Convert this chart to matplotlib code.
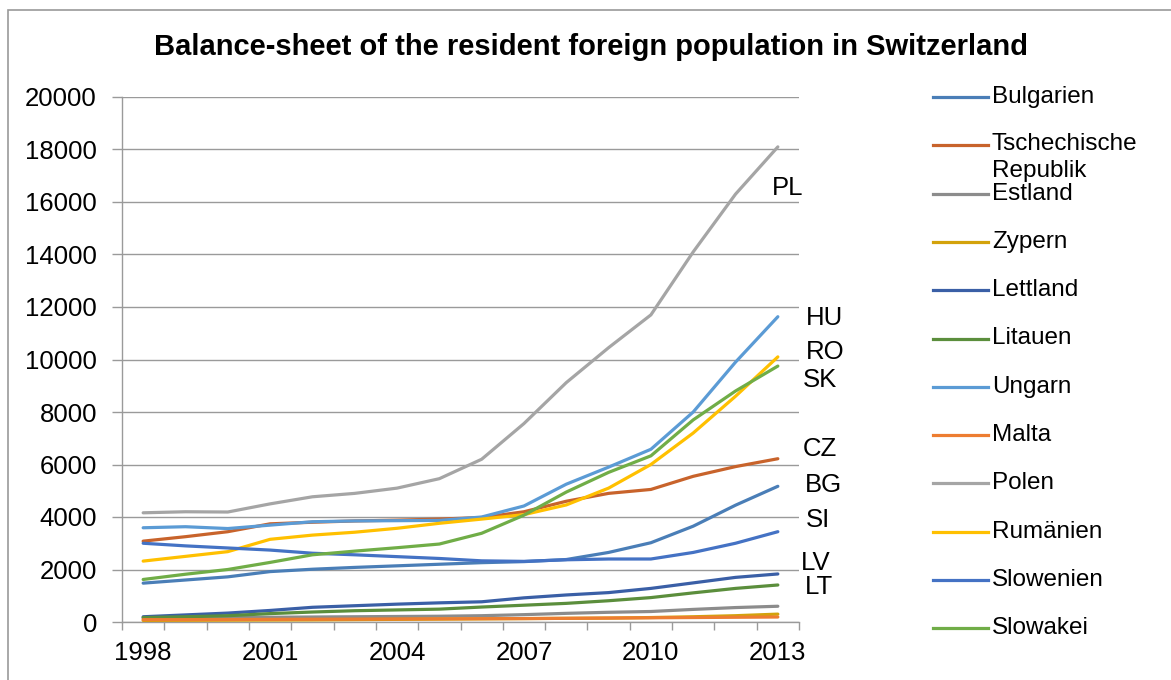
import numpy as np
import matplotlib
matplotlib.use('Agg')
import matplotlib.pyplot as plt
from matplotlib.lines import Line2D
from matplotlib.patches import Rectangle

plt.rcParams['font.family'] = ['Liberation Sans', 'DejaVu Sans']

years = list(range(1998, 2014))

countries = ['Bulgarien', 'Tschechische\nRepublik', 'Estland', 'Zypern', 'Lettland',
             'Litauen', 'Ungarn', 'Malta', 'Polen', 'Rumänien', 'Slowenien', 'Slowakei']
colors = ['#4A7EB7', '#C8632B', '#8C8C8C', '#D3A20B', '#3A5FA6', '#5B8E3C',
          '#5B9BD5', '#ED7D31', '#A5A5A5', '#FFC000', '#4472C4', '#70AD47']

bulgarien = [1480, 1600, 1720, 1920, 2010, 2080, 2140, 2200, 2260, 2300, 2380, 2650, 3020, 3650, 4450, 5170]
tschechien = [3080, 3250, 3440, 3740, 3800, 3850, 3880, 3920, 3980, 4200, 4600, 4900, 5050, 5550, 5920, 6220]
estland = [150, 160, 170, 180, 190, 200, 210, 220, 240, 280, 330, 370, 400, 480, 550, 600]
zypern = [60, 65, 70, 75, 80, 90, 100, 110, 120, 130, 140, 150, 170, 200, 240, 300]
lettland = [200, 270, 340, 440, 560, 620, 680, 730, 770, 920, 1030, 1120, 1280, 1490, 1700, 1830]
litauen = [170, 200, 240, 320, 380, 430, 460, 490, 570, 640, 710, 810, 930, 1110, 1280, 1410]
ungarn = [3590, 3630, 3560, 3690, 3820, 3850, 3860, 3870, 4000, 4420, 5250, 5900, 6580, 8000, 9900, 11630]
malta = [90, 90, 95, 100, 105, 110, 115, 120, 125, 130, 140, 150, 160, 170, 180, 190]
polen = [4160, 4200, 4190, 4500, 4770, 4900, 5100, 5460, 6200, 7560, 9120, 10450, 11700, 14100, 16300, 18100]
rumaenien = [2320, 2500, 2680, 3150, 3310, 3420, 3570, 3760, 3920, 4090, 4460, 5100, 6000, 7200, 8600, 10100]
slowenien = [3000, 2900, 2820, 2740, 2620, 2560, 2490, 2420, 2330, 2310, 2370, 2400, 2400, 2650, 3000, 3440]
slowakei = [1620, 1820, 2000, 2270, 2560, 2700, 2830, 2970, 3380, 4070, 4950, 5700, 6330, 7700, 8800, 9750]

series = [bulgarien, tschechien, estland, zypern, lettland, litauen,
          ungarn, malta, polen, rumaenien, slowenien, slowakei]

end_labels = ['PL', 'HU', 'RO', 'SK', 'CZ', 'BG', 'SI', 'LV', 'LT']
end_label_y = [16530, 11580, 10290, 9220, 6590, 5220, 3890, 2250, 1330]
end_label_x = [14.86, 15.67, 15.67, 15.58, 15.58, 15.65, 15.65, 15.55, 15.65]

W, H = 1171, 680
fig = plt.figure(figsize=(W / 100, H / 100), dpi=100)
fig.patch.set_facecolor('white')
fig.patches.append(Rectangle((8 / W, -0.1), 1.2, (H - 10) / H + 0.1, transform=fig.transFigure,
                             fill=False, edgecolor='#9A9A9A', linewidth=1.2))

ax = fig.add_axes([122 / W, 58 / H, 677 / W, 525 / H])
x = np.arange(len(years))
lines = []
for vals, col in zip(series, colors):
    ln, = ax.plot(x, vals, color=col, linewidth=2.3, solid_capstyle='round', zorder=3)
    lines.append(ln)

ax.set_xlim(-0.5, len(years) - 0.5)
ax.set_ylim(0, 20000)
ax.set_yticks(np.arange(0, 20001, 2000))
ax.set_yticklabels([str(v) for v in range(0, 20001, 2000)])
ax.set_xticks(x[::3])
ax.set_xticklabels([str(y) for y in years[::3]])
ax.set_xticks(np.arange(-0.5, len(years), 1), minor=True)
ax.tick_params(axis='x', which='major', length=0, pad=14, labelsize=18.5)
ax.tick_params(axis='x', which='minor', length=6, width=1, color='#9A9A9A', direction='out')
ax.tick_params(axis='y', length=7, width=1, color='#9A9A9A', pad=11, labelsize=18.5)
ax.grid(axis='y', color='#9A9A9A', linewidth=1)
ax.set_axisbelow(True)
for s in ['top', 'right']:
    ax.spines[s].set_visible(False)
for s in ['left', 'bottom']:
    ax.spines[s].set_color('#9A9A9A')
    ax.spines[s].set_linewidth(1)

for lab, lx, ly in zip(end_labels, end_label_x, end_label_y):
    ax.text(lx, ly, lab, fontsize=18.5, ha='left', va='center', clip_on=False)

fig.text(591 / W, 1 - 47 / H, 'Balance-sheet of the resident foreign population in Switzerland',
         ha='center', va='center', fontsize=21, fontweight='bold')

# legend drawn by hand so the wrapped label overlaps like the original
for i, (ln, name) in enumerate(zip(lines, countries)):
    yp = 97 + i * 48.3
    fy = 1 - yp / H
    fig.add_artist(Line2D([933 / W, 988 / W], [fy, fy], color=ln.get_color(),
                          linewidth=2.3, transform=fig.transFigure))
    if '\n' in name:
        fig.text(992 / W, 1 - (yp - 12) / H, name, ha='left', va='top',
                 fontsize=17.5, linespacing=1.25)
    else:
        fig.text(992 / W, fy, name, ha='left', va='center', fontsize=17.5)

fig.savefig('out.png', dpi=100)
